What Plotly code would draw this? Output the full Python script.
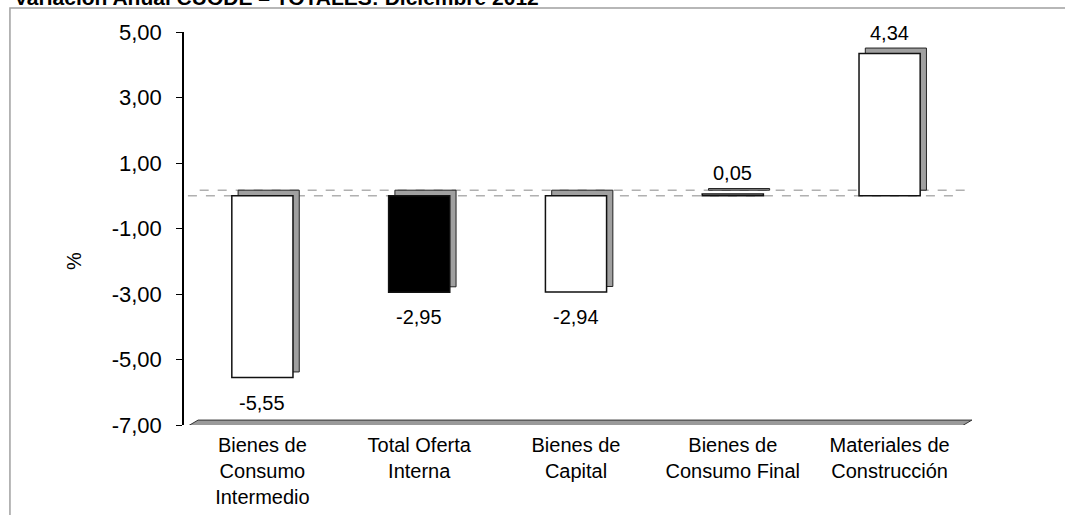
import plotly.graph_objects as go

categories = ["Bienes de<br>Consumo<br>Intermedio", "Total Oferta<br>Interna", "Bienes de<br>Capital",
              "Bienes de<br>Consumo Final", "Materiales de<br>Construcción"]
values = [-5.55, -2.95, -2.94, 0.05, 4.34]
face_colors = ["white", "black", "white", "white", "white"]
tick_vals = [-7, -5, -3, -1, 1, 3, 5]
tick_text = ["-7,00", "-5,00", "-3,00", "-1,00", "1,00", "3,00", "5,00"]
title_text = "Variación Anual CUODE – TOTALES: Diciembre 2012"
y_title = "%"

FONT = "Liberation Sans, Arial, sans-serif"
DEPTH = 0.17  # 3D depth in y units
BW = 0.39

fig = go.Figure()
# side/back faces (grey), shifted right and up
fig.add_trace(go.Bar(
    x=list(range(len(values))), y=values, base=[DEPTH] * len(values),
    width=BW, offset=-BW / 2 + 0.04,
    marker=dict(color="#a0a0a0", line=dict(color="#222", width=1)),
    hoverinfo="skip", showlegend=False))
# front faces
fig.add_trace(go.Bar(
    x=list(range(len(values))), y=values,
    width=BW, offset=-BW / 2,
    marker=dict(color=face_colors, line=dict(color="#111", width=1.5)),
    showlegend=False))

# value labels
for i, v in enumerate(values):
    fig.add_annotation(x=i, y=v, text=f"{v:.2f}".replace(".", ","), showarrow=False,
                       xanchor="center", yanchor="top" if v < 0 else "bottom",
                       yshift=-12 if v < 0 else 8,
                       font=dict(family=FONT, size=20, color="black"))

# dashed "zero" lines (3D)
fig.add_shape(type="line", xref="paper", yref="y", x0=0.005, x1=0.985, y0=0, y1=0,
              line=dict(color="#b0b0b0", width=1.5, dash="dash"), layer="below")
fig.add_shape(type="line", xref="paper", yref="y", x0=0.02, x1=1.0, y0=DEPTH, y1=DEPTH,
              line=dict(color="#b0b0b0", width=1.5, dash="dash"), layer="below")

# floor platform
fig.add_shape(type="path", xref="paper", yref="y",
              path="M 0.003 -7.06 L 0.018 -6.85 L 1.005 -6.85 L 0.99 -7.06 Z",
              fillcolor="#9a9a9a", line=dict(color="#333", width=1), layer="below")

# outer border (top and left edges visible)
fig.add_shape(type="path", xref="paper", yref="paper",
              path="M 1.3 1.061 L -0.222 1.061 L -0.222 -0.6",
              line=dict(color="#a0a0a0", width=1.5))

# title (clipped at the top as in the original)
fig.add_annotation(xref="paper", yref="paper", x=-0.218, y=1.057, xanchor="left", yanchor="bottom",
                   text="<b>" + title_text + "</b>", showarrow=False, borderpad=0,
                   font=dict(family=FONT, size=21, color="black"))
# y-axis title
fig.add_annotation(xref="paper", yref="y", x=-0.156, y=-2, text=y_title, textangle=-90,
                   showarrow=False, font=dict(family=FONT, size=20, color="black"))

fig.update_layout(
    width=1065, height=515,
    margin=dict(l=184, r=97, t=32, b=90, autoexpand=False),
    paper_bgcolor="white", plot_bgcolor="white",
    barmode="overlay",
    font=dict(family=FONT, size=20, color="black"),
    xaxis=dict(tickmode="array", tickvals=list(range(len(categories))), ticktext=categories,
               range=[-0.5, len(categories) - 0.5], showline=False, showgrid=False, zeroline=False,
               ticks="", tickfont=dict(size=20), ticklabelstandoff=6, automargin=False),
    yaxis=dict(range=[-7, 5], tickmode="array", tickvals=tick_vals, ticktext=tick_text,
               showgrid=False, zeroline=False, automargin=False,
               showline=True, linecolor="black", linewidth=1.5, ticks="outside", ticklen=6,
               tickcolor="black", tickfont=dict(size=22), ticklabelstandoff=10),
)

fig.write_html("out.html", config={"displayModeBar": False},
               post_script="document.body.style.margin='0';")
